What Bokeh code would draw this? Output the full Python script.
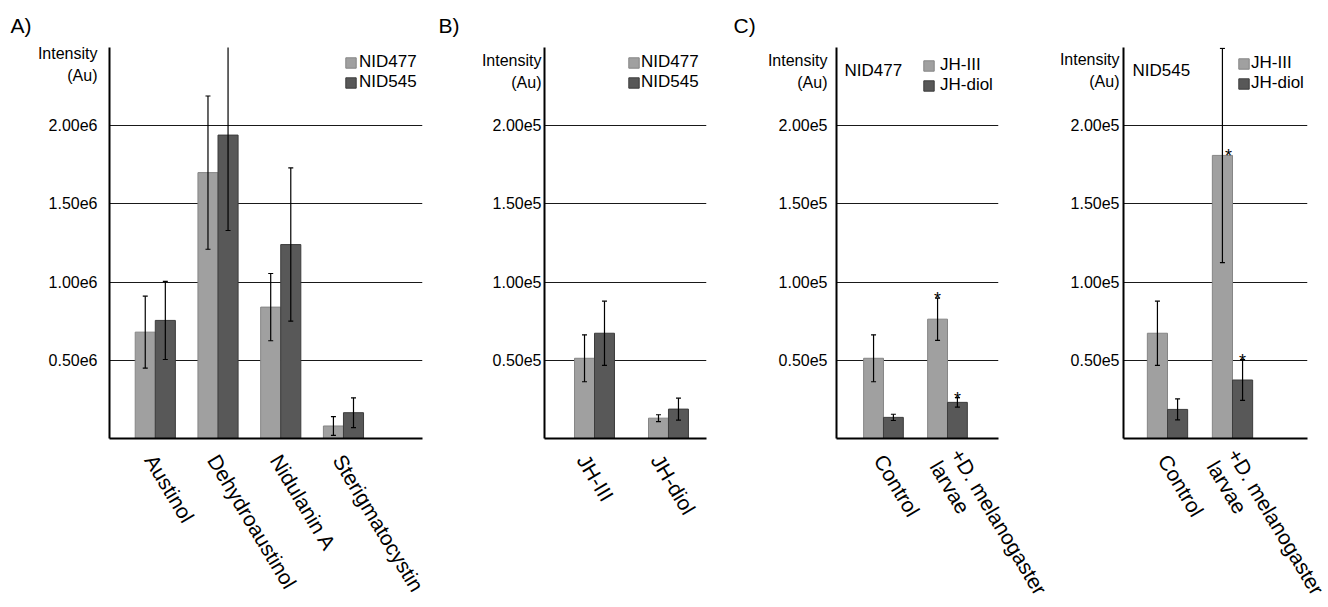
from bokeh.plotting import figure
from bokeh.layouts import row
from bokeh.models import FixedTicker, Label, Legend, LegendItem, ColumnDataSource, Range1d
from bokeh.embed import file_html
from bokeh.resources import INLINE
from bokeh.core.properties import value

FONT = "Liberation Sans"
LIGHT = "#a0a0a0"
LIGHT_EDGE = "#858585"
DARK = "#585858"
DARK_EDGE = "#3c3c3c"

# ---------------- Panel A data ----------------
a_categories = ["Austinol", "Dehydroaustinol", "Nidulanin A", "Sterigmatocystin"]
a_series = ["NID477", "NID545"]
a_nid477 = [0.68e6, 1.70e6, 0.84e6, 0.08e6]
a_nid477_err = [0.23e6, 0.49e6, 0.215e6, 0.06e6]
a_nid545 = [0.755e6, 1.94e6, 1.24e6, 0.165e6]
a_nid545_err = [0.25e6, 0.61e6, 0.49e6, 0.095e6]
a_yticks = [500000, 1000000, 1500000, 2000000, 2500000]
a_ytick_labels = ["0.50e6", "1.00e6", "1.50e6", "2.00e6", ""]

# ---------------- Panel B data ----------------
b_categories = ["JH-III", "JH-diol"]
b_series = ["NID477", "NID545"]
b_nid477 = [0.513e5, 0.13e5]
b_nid477_err = [0.15e5, 0.022e5]
b_nid545 = [0.673e5, 0.188e5]
b_nid545_err = [0.205e5, 0.07e5]

# ---------------- Panel C data ----------------
c_categories = ["Control", "+D. melanogaster\nlarvae"]
c_series = ["JH-III", "JH-diol"]
c1_strain = "NID477"
c1_jh3 = [0.513e5, 0.763e5]
c1_jh3_err = [0.15e5, 0.135e5]
c1_diol = [0.135e5, 0.231e5]
c1_diol_err = [0.02e5, 0.03e5]
c1_jh3_star = [False, True]
c1_diol_star = [False, True]
c2_strain = "NID545"
c2_jh3 = [0.673e5, 1.81e5]
c2_jh3_err = [0.205e5, 0.685e5]
c2_diol = [0.186e5, 0.374e5]
c2_diol_err = [0.067e5, 0.13e5]
c2_jh3_star = [False, True]
c2_diol_star = [False, True]

e5_yticks = [50000, 100000, 150000, 200000, 250000]
e5_ytick_labels = ["0.50e5", "1.00e5", "1.50e5", "2.00e5", ""]

y_caption = "Intensity\n(Au)"

H = 640
TOP = 47
FRAME_H = 391


def make_panel(cats, names, v1, e1, v2, e2, yticks, ylabels, ymax, lay,
               stars1=None, stars2=None, letter=None, tag=None):
    fw = lay["frame_w"]
    W = lay["left"] + fw + lay["right"]
    p = figure(width=W, height=H, output_backend="svg", toolbar_location=None,
               x_range=Range1d(lay["x0"], lay["x1"]), y_range=Range1d(0, ymax),
               min_border_left=lay["left"], min_border_right=lay["right"],
               min_border_top=TOP, min_border_bottom=H - TOP - FRAME_H)
    p.outline_line_color = None
    p.background_fill_color = "white"
    p.border_fill_color = "white"
    px_per_unit = fw / (lay["x1"] - lay["x0"])

    bw = lay["bw"]
    n = len(cats)
    idx = list(range(n))
    renderers = []
    for k, (vals, errs, fill, edge) in enumerate(
            [(v1, e1, LIGHT, LIGHT_EDGE), (v2, e2, DARK, DARK_EDGE)]):
        xs = [i + (k - 0.5) * bw for i in idx]
        src = ColumnDataSource(dict(x=xs, top=vals,
                                    lo=[v - e for v, e in zip(vals, errs)],
                                    hi=[v + e for v, e in zip(vals, errs)]))
        r = p.vbar(x="x", top="top", bottom=0, width=bw, source=src,
                   fill_color=fill, line_color=edge, line_width=1)
        renderers.append(r)
        p.segment(x0="x", y0="lo", x1="x", y1="hi", source=src,
                  line_color="black", line_width=1.2)
        p.scatter(x="x", y="lo", source=src, marker="dash", size=5,
                  line_color="black", line_width=1.2)
        p.scatter(x="x", y="hi", source=src, marker="dash", size=5,
                  line_color="black", line_width=1.2)

    # significance stars
    for k, (vals, errs, flags) in enumerate([(v1, e1, stars1), (v2, e2, stars2)]):
        if not flags:
            continue
        sx, sy, sxo = [], [], []
        for i, f in enumerate(flags):
            if f:
                hi = vals[i] + errs[i]
                if hi > 0.85 * ymax:
                    sy.append(vals[i]); sxo.append(6)
                else:
                    sy.append(hi); sxo.append(0)
                sx.append(i + (k - 0.5) * bw)
        p.text(x=sx, y=sy, text=["*"] * len(sx), x_offset=sxo, y_offset=1,
               text_align="center", text_baseline="alphabetic",
               text_font=value(FONT), text_font_size="18px", text_color="black")

    # y axis: numeric ticks plus the caption as an extra labelled tick
    cap_pos = ymax * (1 - lay["cap"] / FRAME_H)
    p.yaxis.ticker = FixedTicker(ticks=yticks + [cap_pos])
    ov = {t: l for t, l in zip(yticks, ylabels)}
    ov[cap_pos] = y_caption
    p.yaxis.major_label_overrides = ov
    p.ygrid.ticker = FixedTicker(ticks=yticks)

    # x axis: category labels (label anchors nudged in pixels)
    xt = [i + s / px_per_unit for i, s in zip(idx, lay["xshift"])]
    p.xaxis.ticker = FixedTicker(ticks=xt)
    p.xaxis.major_label_overrides = {t: c for t, c in zip(xt, cats)}
    for ax in (p.xaxis, p.yaxis):
        ax.axis_line_color = "black"
        ax.axis_line_width = 2
        ax.major_tick_line_color = None
        ax.minor_tick_line_color = None
        ax.major_tick_in = 0
        ax.major_tick_out = 0
        ax.major_label_text_font = FONT
        ax.major_label_text_color = "black"
    p.yaxis.major_label_text_font_size = "16px"
    p.yaxis.major_label_text_line_height = 1.3
    p.yaxis.major_label_standoff = lay["ystand"]
    p.xaxis.major_label_text_font_size = "21px"
    p.xaxis.major_label_text_line_height = 1.05
    p.xaxis.major_label_orientation = -1.03
    p.xaxis.major_label_standoff = 18

    p.xgrid.visible = False
    p.ygrid.grid_line_color = "black"
    p.ygrid.grid_line_width = 1
    p.ygrid.grid_line_alpha = 0.9

    # legend
    legend = Legend(items=[LegendItem(label=names[0], renderers=[renderers[0]]),
                           LegendItem(label=names[1], renderers=[renderers[1]])],
                    location=lay["legend"], orientation="vertical",
                    glyph_width=13, glyph_height=13, label_height=20,
                    label_standoff=lay["lstand"], spacing=0, padding=0, margin=0,
                    border_line_alpha=0, background_fill_alpha=0,
                    label_text_font=FONT, label_text_font_size="17px",
                    label_text_color="black")
    p.add_layout(legend)

    if letter:
        p.title.text = letter
        p.title.align = "left"
        p.title.offset = lay["letter_off"]
        p.title.text_font = FONT
        p.title.text_font_size = "21px"
        p.title.text_font_style = "normal"
        p.title.text_color = "black"
        p.title.vertical_align = "bottom"
        p.title.standoff = 22
    if tag:
        tx, ty = lay["tag"]
        p.add_layout(Label(x=tx, y=ty, x_units="screen", y_units="screen",
                           text=tag, text_font=FONT, text_font_size="17px",
                           text_color="black", text_baseline="alphabetic",
                           text_align="left"))
    return p


# page columns: A 0..430 | B 430..720 | C1 720..1051 | C2 1051..1328
lay_a = dict(left=109, right=8, frame_w=313, x0=-0.73, x1=4.26,
             bw=0.32, ystand=12, legend=(235, 346), lstand=2, letter_off=-99,
             cap=17, xshift=[-5, -5, -5, -5])
lay_b = dict(left=114, right=14, frame_w=162, x0=-0.676, x1=1.514,
             bw=0.27, ystand=3, legend=(83, 346), lstand=1, letter_off=-106,
             cap=24, xshift=[-12, -12])
lay_c1 = dict(left=116, right=53, frame_w=162, x0=-0.734, x1=1.797,
              bw=0.31, ystand=9, legend=(86, 343), lstand=5, letter_off=-103,
              tag=(8, 368), cap=24, xshift=[-4, 17])
lay_c2 = dict(left=72, right=21, frame_w=184, x0=-0.677, x1=2.154,
              bw=0.31, ystand=4, legend=(114, 345), lstand=1, tag=(9, 368),
              cap=23, xshift=[-4, 17])

pA = make_panel(a_categories, a_series, a_nid477, a_nid477_err, a_nid545, a_nid545_err,
                a_yticks, a_ytick_labels, 2.5e6, lay_a, letter="A)")
pB = make_panel(b_categories, b_series, b_nid477, b_nid477_err, b_nid545, b_nid545_err,
                e5_yticks, e5_ytick_labels, 2.5e5, lay_b, letter="B)")
pC1 = make_panel(c_categories, c_series, c1_jh3, c1_jh3_err, c1_diol, c1_diol_err,
                 e5_yticks, e5_ytick_labels, 2.5e5, lay_c1,
                 stars1=c1_jh3_star, stars2=c1_diol_star, letter="C)", tag=c1_strain)
pC2 = make_panel(c_categories, c_series, c2_jh3, c2_jh3_err, c2_diol, c2_diol_err,
                 e5_yticks, e5_ytick_labels, 2.5e5, lay_c2,
                 stars1=c2_jh3_star, stars2=c2_diol_star, tag=c2_strain)

layout = row(pA, pB, pC1, pC2, spacing=0)
open("out.html", "w").write(file_html(layout, INLINE))
